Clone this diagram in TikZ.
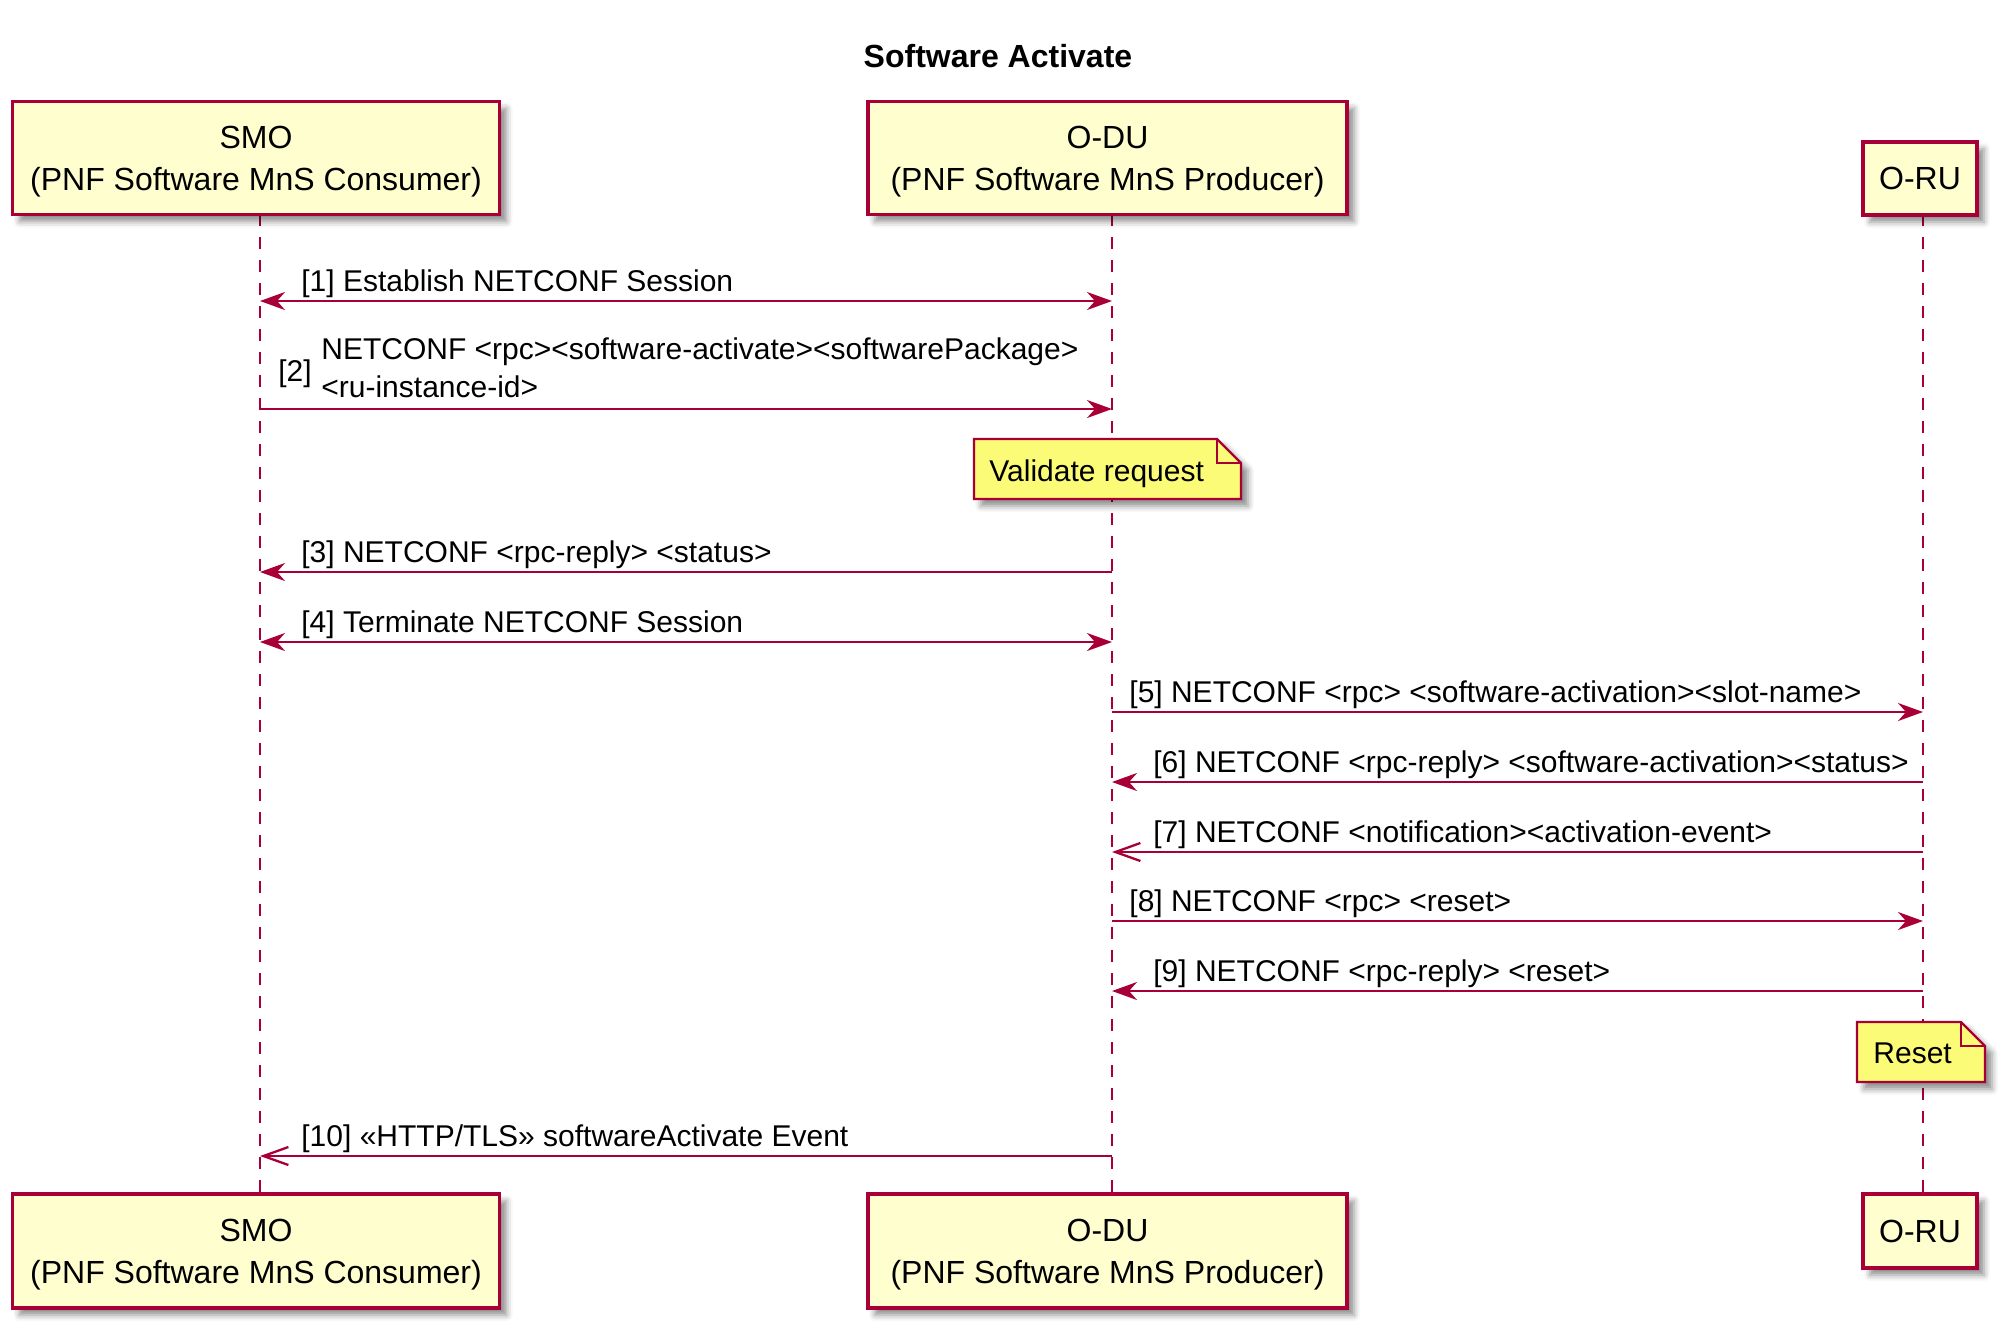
\documentclass[tikz,border=0pt]{standalone}
\usepackage{fontspec}
\setmainfont{Liberation Sans}
\usetikzlibrary{arrows.meta,shadows.blur,calc}
\definecolor{umlred}{HTML}{A80036}
\definecolor{partfill}{HTML}{FEFECE}
\definecolor{notefill}{HTML}{FBFB77}
\tikzset{
  shad/.style={blur shadow={shadow xshift=3.5pt, shadow yshift=-3.5pt, shadow blur radius=3pt, shadow opacity=45}},
  part/.style={draw=umlred, line width=1.7pt, fill=partfill, align=center,
    font=\fontsize{16}{21}\selectfont, inner sep=0pt, shad},
  twoline/.style={text depth=-2.2pt},
  life/.style={draw=umlred, line width=1.15pt, dash pattern=on 5.75pt off 5.75pt},
  msg/.style={draw=umlred, line width=1.15pt},
  sync/.style={-{Stealth[length=12.5pt,width=9pt,inset=4pt]}},
  async/.style={-{Straight Barb[length=12.5pt,width=9pt]}},
  both/.style={{Stealth[length=12.5pt,width=9pt,inset=4pt]}-{Stealth[length=12.5pt,width=9pt,inset=4pt]}},
  lbl/.style={anchor=base west, inner sep=0pt, font=\fontsize{15}{18}\selectfont},
  notebody/.style={fill=notefill, draw=umlred, line width=1.15pt, shad},
  notefold/.style={draw=umlred, line width=1.15pt},
}
\begin{document}
\begin{tikzpicture}[x=0.5pt,y=-0.5pt]
\useasboundingbox (0,0) rectangle (2010,1341);

% lifeline x positions and extent
\coordinate (smoX) at (260,0);
\coordinate (oduX) at (1112,0);
\coordinate (oruX) at (1923,0);
\coordinate (ltop) at (0,214);
\coordinate (lbot) at (0,1194);

\draw[life] (smoX |- ltop) -- (smoX |- lbot);
\draw[life] (oduX |- ltop) -- (oduX |- lbot);
\draw[life] (oruX |- ltop) -- (oruX |- lbot);

% title
\node[anchor=base, inner sep=0pt, font=\bfseries\fontsize{16}{19}\selectfont] (title) at (998,67) {Software Activate};

% participants (top)
\node[part, twoline, minimum width=243.5pt, minimum height=56.5pt] (smoT) at (256,158) {SMO\\(PNF Software MnS Consumer)};
\node[part, twoline, minimum width=239.5pt, minimum height=56.5pt] (oduT) at (1107.5,158) {O-DU\\(PNF Software MnS Producer)};
\node[part, minimum width=57pt, minimum height=36.5pt] (oruT) at (1920,178.5) {O-RU};
% participants (bottom)
\node[part, twoline, minimum width=243.5pt, minimum height=57pt] (smoB) at (256,1251) {SMO\\(PNF Software MnS Consumer)};
\node[part, twoline, minimum width=239.5pt, minimum height=57pt] (oduB) at (1107.5,1251) {O-DU\\(PNF Software MnS Producer)};
\node[part, minimum width=57pt, minimum height=37pt] (oruB) at (1920,1231) {O-RU};

% message rows
\coordinate (m1) at (0,301);
\coordinate (m2) at (0,409);
\coordinate (m3) at (0,572);
\coordinate (m4) at (0,642);
\coordinate (m5) at (0,712);
\coordinate (m6) at (0,782);
\coordinate (m7) at (0,852);
\coordinate (m8) at (0,921);
\coordinate (m9) at (0,991);
\coordinate (m10) at (0,1156);

% [1]
\draw[msg, both] (smoX |- m1) -- (oduX |- m1);
\node[lbl] (l1) at (301,291) {[1] Establish NETCONF Session};
% [2]
\draw[msg, sync] (smoX |- m2) -- (oduX |- m2);
\node[lbl] (l2n) at (278,381) {[2]};
\node[lbl] (l2a) at (321,359) {NETCONF <rpc><software-activate><softwarePackage>};
\node[lbl] (l2b) at (321,397) {<ru-instance-id>};

% note: Validate request
\coordinate (n1a) at (974,439);
\coordinate (n1b) at (1241,499);
\path[notebody] (n1a) -- ($(n1b|-n1a)+(-24,0)$) -- ($(n1b|-n1a)+(0,24)$) -- (n1b) -- (n1a|-n1b) -- cycle;
\draw[notefold] ($(n1b|-n1a)+(-24,0)$) -- ($(n1b|-n1a)+(-24,24)$) -- ($(n1b|-n1a)+(0,24)$);
\node[lbl] (n1) at (989,481) {Validate request};

% [3]
\draw[msg, sync] (oduX |- m3) -- (smoX |- m3);
\node[lbl] (l3) at (301,562) {[3] NETCONF <rpc-reply> <status>};
% [4]
\draw[msg, both] (smoX |- m4) -- (oduX |- m4);
\node[lbl] (l4) at (301,632) {[4] Terminate NETCONF Session};
% [5]
\draw[msg, sync] (oduX |- m5) -- (oruX |- m5);
\node[lbl] (l5) at (1129,702) {[5] NETCONF <rpc> <software-activation><slot-name>};
% [6]
\draw[msg, sync] (oruX |- m6) -- (oduX |- m6);
\node[lbl] (l6) at (1153,772) {[6] NETCONF <rpc-reply> <software-activation><status>};
% [7]
\draw[msg, async] (oruX |- m7) -- (oduX |- m7);
\node[lbl] (l7) at (1153,842) {[7] NETCONF <notification><activation-event>};
% [8]
\draw[msg, sync] (oduX |- m8) -- (oruX |- m8);
\node[lbl] (l8) at (1129,911) {[8] NETCONF <rpc> <reset>};
% [9]
\draw[msg, sync] (oruX |- m9) -- (oduX |- m9);
\node[lbl] (l9) at (1153,981) {[9] NETCONF <rpc-reply> <reset>};

% note: Reset
\coordinate (n2a) at (1857,1022);
\coordinate (n2b) at (1985,1082);
\path[notebody] (n2a) -- ($(n2b|-n2a)+(-24,0)$) -- ($(n2b|-n2a)+(0,24)$) -- (n2b) -- (n2a|-n2b) -- cycle;
\draw[notefold] ($(n2b|-n2a)+(-24,0)$) -- ($(n2b|-n2a)+(-24,24)$) -- ($(n2b|-n2a)+(0,24)$);
\node[lbl] (n2) at (1873,1063) {Reset};

% [10]
\draw[msg, async] (oduX |- m10) -- (smoX |- m10);
\node[lbl] (l10) at (301,1146) {[10] «HTTP/TLS» softwareActivate Event};
\end{tikzpicture}
\end{document}
